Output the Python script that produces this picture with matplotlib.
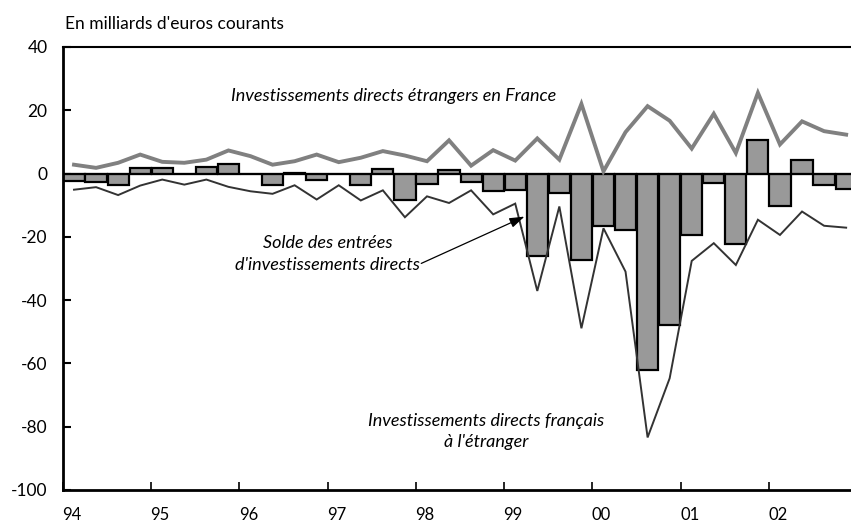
import numpy as np
import matplotlib
matplotlib.use("Agg")
import matplotlib.pyplot as plt
from matplotlib.transforms import ScaledTranslation

plt.rcParams['font.family'] = ['Lato', 'DejaVu Sans']
plt.rcParams['axes.unicode_minus'] = False

# quarterly data, 1994 Q1 .. 2002 Q4
years = list(range(1994, 2003))
year_labels = ['94', '95', '96', '97', '98', '99', '00', '01', '02']

inward = [2.8, 1.8, 3.4, 6.0, 3.7, 3.4, 4.4, 7.3, 5.5, 2.8, 3.9, 6.0,
          3.6, 5.0, 7.1, 5.7, 3.9, 10.5, 2.5, 7.4, 4.1, 11.1, 4.4, 22.0,
          0.7, 13.1, 21.3, 16.7, 7.9, 18.9, 6.5, 25.5, 9.2, 16.5, 13.4, 12.3]

outward = [-5.1, -4.3, -6.8, -3.8, -1.9, -3.5, -1.9, -4.2, -5.6, -6.4, -3.7, -8.2,
           -3.7, -8.5, -5.3, -13.8, -7.2, -9.3, -5.3, -12.9, -9.5, -37.1, -10.4, -48.9,
           -17.3, -31.0, -83.4, -64.7, -27.6, -22.0, -28.9, -14.6, -19.4, -12.0, -16.5, -17.1]

balance = [-2.5, -2.6, -3.5, 1.8, 1.7, 0.0, 2.1, 3.0, 0.0, -3.7, 0.2, -2.1,
           0.0, -3.5, 1.5, -8.2, -3.4, 1.0, -2.6, -5.6, -5.2, -26.0, -6.0, -27.3,
           -16.5, -17.8, -62.2, -47.8, -19.5, -3.1, -22.4, 10.7, -10.2, 4.3, -3.5, -4.8]

n = len(balance)
q_start = 1994 + np.arange(n) / 4
q_mid = q_start + 0.125

fig = plt.figure(figsize=(8.51, 5.25), dpi=100)
ax = fig.add_axes([0.074, 0.0667, 0.926, 0.8438])

ax.bar(q_start + 0.005, balance, width=0.24, align='edge', color='#999999',
       edgecolor='black', linewidth=1.6, zorder=2)
ax.axhline(0, color='black', lw=1.5, zorder=3)
ax.plot(q_mid, inward, color='#808080', lw=2.8, zorder=4, solid_joinstyle='miter')
ax.plot(q_mid, outward, color='#333333', lw=1.4, zorder=4, solid_joinstyle='miter')

ax.set_xlim(1994, 2002.93)
ax.set_ylim(-100, 40)
ax.set_yticks(range(-100, 41, 20))
ax.set_xticks(years)
ax.set_xticklabels(year_labels)
ax.tick_params(axis='y', direction='in', length=6, width=1.5, labelsize=12.5, pad=11)
ax.tick_params(axis='x', direction='in', length=6, width=1.2, labelsize=12, pad=12)
for lab in ax.get_xticklabels():
    lab.set_transform(lab.get_transform() + ScaledTranslation(9 / 100, 0, fig.dpi_scale_trans))

for s in ['left', 'bottom']:
    ax.spines[s].set_linewidth(2)
ax.spines['top'].set_linewidth(1.5)
ax.spines['right'].set_visible(False)

fig.text(65 / 851, 1 - 24 / 525, "En milliards d'euros courants", fontsize=12.5,
         ha='left', va='center')

ax.text(1997.75, 24.5, "Investissements directs étrangers en France",
        style='italic', fontsize=13, ha='center', va='center')
ax.text(1997.0, -25.5, "Solde des entrées\nd'investissements directs",
        style='italic', fontsize=13, ha='center', va='center', linespacing=1.45)
ax.text(1998.8, -81.5, "Investissements directs français\nà l'étranger",
        style='italic', fontsize=13, ha='center', va='center', linespacing=1.45)
ax.annotate('', xy=(1999.23, -13.6), xytext=(1998.06, -28.4),
            arrowprops=dict(arrowstyle='-|>,head_length=0.9,head_width=0.3',
                            color='black', lw=0.9, shrinkA=0, shrinkB=0), zorder=6)

fig.savefig('out.png', dpi=100)
